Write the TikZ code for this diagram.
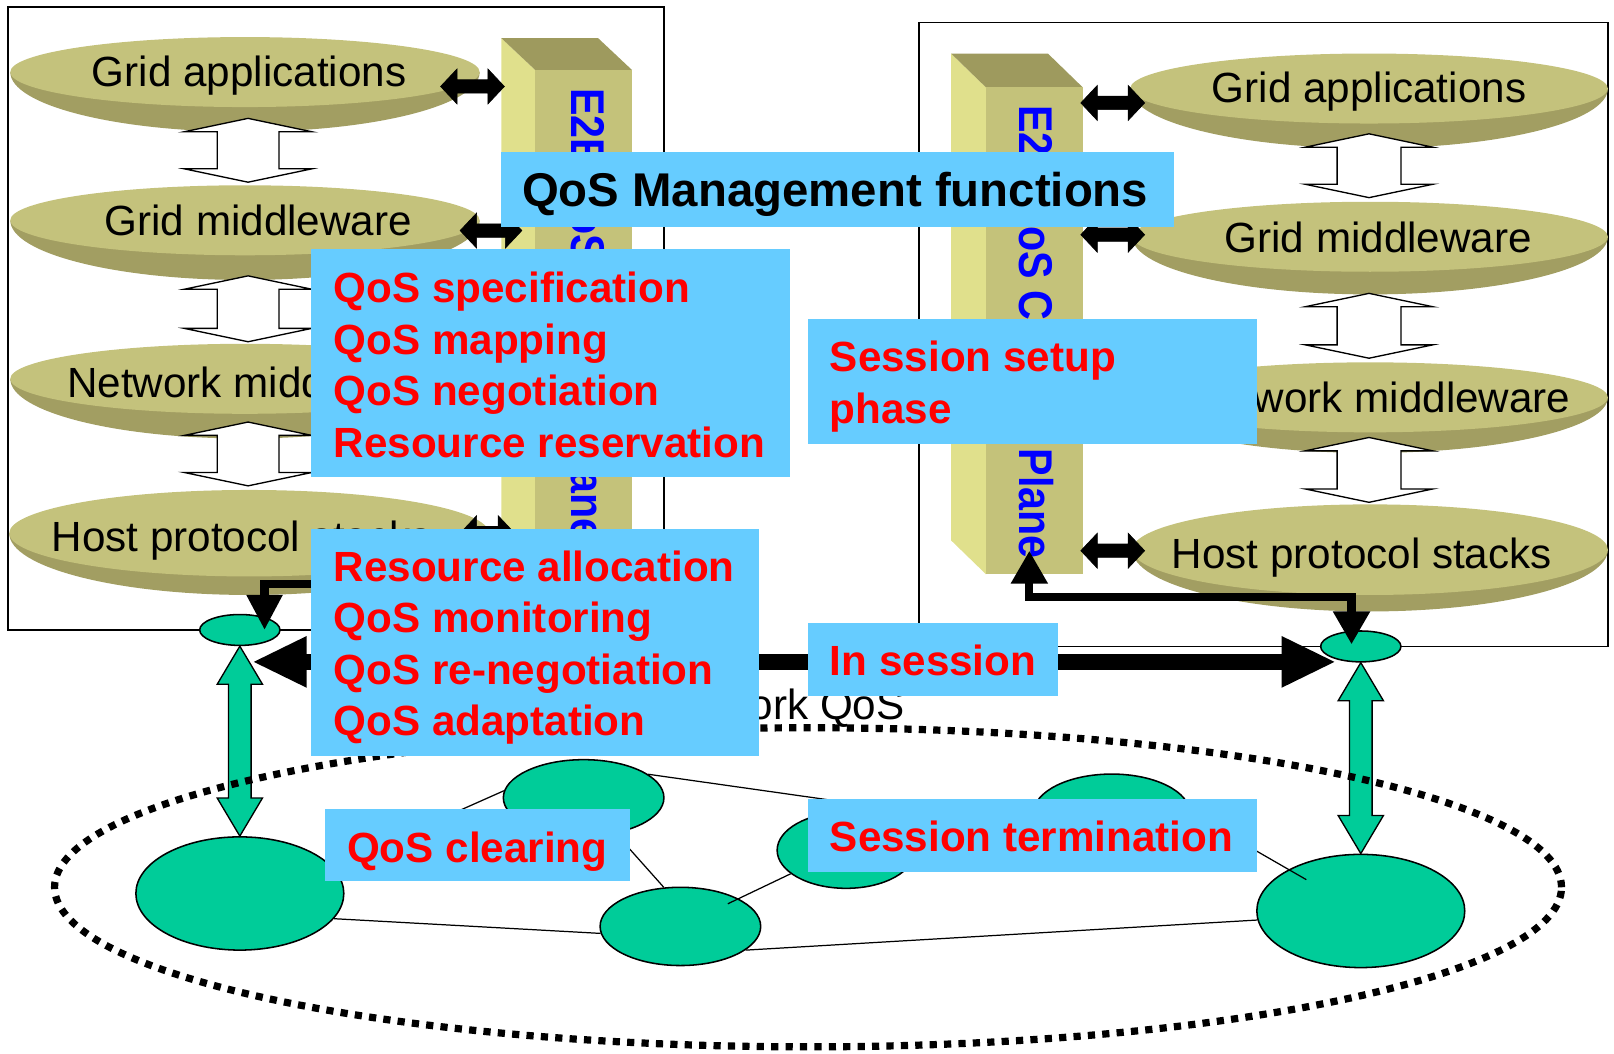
\documentclass[tikz,border=0pt]{standalone}
\usepackage{fontspec}
\setmainfont{Liberation Sans}
\usetikzlibrary{calc,arrows.meta,shapes.geometric}

\definecolor{disktop}{HTML}{C4C27C}
\definecolor{diskside}{HTML}{A29E62}
\definecolor{plantop}{HTML}{9E9A5E}
\definecolor{planfront}{HTML}{C4C27A}
\definecolor{planside}{HTML}{E0E08C}
\definecolor{panel}{HTML}{66CCFF}
\definecolor{netgreen}{HTML}{00CC99}
\definecolor{planeblue}{HTML}{0000FF}

% layer disk: dark side lens under a light top ellipse; #1 name, #2 cx, #3 cy, #4 rx, #5 top ry, #6 side ry
\newcommand\layerdisk[6]{%
  \fill[diskside] (#2-#4,#3) arc[start angle=180,end angle=360,x radius=#4pt,y radius=#6pt] -- cycle;
  \fill[disktop] (#2,#3) ellipse[x radius=#4pt,y radius=#5pt];
  \coordinate (#1) at (#2,#3);}

% vertical block double arrow between two named points; #3 shaft half, #4 head half, #5 head length
\newcommand\vblock[6]{%
  \draw[#6] let \p1=(#1), \p2=(#2) in
    (\x1,\y1) -- (\x1+#4pt,\y1-#5pt) -- (\x1+#3pt,\y1-#5pt) -- (\x1+#3pt,\y2+#5pt)
    -- (\x1+#4pt,\y2+#5pt) -- (\x1,\y2) -- (\x1-#4pt,\y2+#5pt) -- (\x1-#3pt,\y2+#5pt)
    -- (\x1-#3pt,\y1-#5pt) -- (\x1-#4pt,\y1-#5pt) -- cycle;}

% horizontal block double arrow between two named points
\newcommand\hblock[6]{%
  \draw[#6] let \p1=(#1), \p2=(#2) in
    (\x1,\y1) -- (\x1+#5pt,\y1+#4pt) -- (\x1+#5pt,\y1+#3pt) -- (\x2-#5pt,\y1+#3pt)
    -- (\x2-#5pt,\y1+#4pt) -- (\x2,\y1) -- (\x2-#5pt,\y1-#4pt) -- (\x2-#5pt,\y1-#3pt)
    -- (\x1+#5pt,\y1-#3pt) -- (\x1+#5pt,\y1-#4pt) -- cycle;}

% control plane pillar; #1 name, #2 x0, #3 ytop, #4 side width, #5 front width, #6 depth, #7 ybottom
\newcommand\planepillar[7]{%
  \fill[planside] (#2,#3) -- (#2+#4,#3+#6) -- (#2+#4,#7) -- (#2,#7-#6) -- cycle;
  \fill[plantop] (#2,#3) -- (#2+#5,#3) -- (#2+#4+#5,#3+#6) -- (#2+#4,#3+#6) -- cycle;
  \fill[planfront] (#2+#4,#3+#6) rectangle (#2+#4+#5,#7);
  \coordinate (#1) at (#2+#4+#5/2,{(#3+#6+#7)/2});}

\begin{document}
\begin{tikzpicture}[x=1pt,y=-1pt,
  frame/.style={draw=black,line width=1.5pt},
  hollow/.style={fill=white,draw=black,line width=1.3pt,line join=miter},
  solidblock/.style={fill=black,draw=black,line width=0.6pt,line join=miter},
  greenblock/.style={fill=netgreen,draw=black,line width=1.3pt,line join=miter},
  netnode/.style={ellipse,fill=netgreen,draw=black,line width=1.5pt,inner sep=0pt},
  netlink/.style={draw=black,line width=1.2pt},
  panelbox/.style={fill=panel,inner sep=0pt,anchor=north west},
  paneltext/.style={font=\fontsize{41}{50}\selectfont\bfseries,text=red,align=left,anchor=west,inner sep=0pt},
  layertext/.style={font=\fontsize{41}{49}\selectfont,inner sep=0pt,anchor=base},
  planetext/.style={font=\fontsize{46}{55}\selectfont\bfseries,text=planeblue,rotate=-90,xscale=0.87,inner sep=0pt},
  elbow/.style={line width=8pt,line join=miter}
]
\useasboundingbox (0,0) rectangle (1568,1023);

% host frames
\draw[frame] (8,7) rectangle (645,612);
\draw[frame] (893,22) rectangle (1562,628);

% left host stack
\layerdisk{lga}{238}{70}{228}{34}{58}
\layerdisk{lgm}{238}{214}{228}{34}{58}
\layerdisk{lnm}{238}{368}{228}{34}{58}
\layerdisk{lhp}{242}{518}{233}{42}{60}
\node[layertext] (t-lga) at (242,84) {Grid applications};
\node[layertext] (t-lgm) at (251,229) {Grid middleware};
\node[layertext,anchor=base west] (t-lnm) at (65,386) {Network middleware};
\node[layertext,anchor=base west] (t-lhp) at (50,536) {Host protocol stacks};

% right host stack
\layerdisk{rga}{1330}{86}{232}{34}{58}
\layerdisk{rgm}{1331}{230}{231}{34}{56}
\layerdisk{rnm}{1331}{386}{231}{34}{54}
\layerdisk{rhp}{1331}{534}{231}{44}{60}
\node[layertext] (t-rga) at (1330,100) {Grid applications};
\node[layertext] (t-rgm) at (1339,245) {Grid middleware};
\node[layertext] (t-rnm) at (1340,401) {Network middleware};
\node[layertext] (t-rhp) at (1323,552) {Host protocol stacks};

% hollow arrows between layers
\coordinate (la1t) at (241,115); \coordinate (la1b) at (241,177);
\coordinate (la2t) at (241,268); \coordinate (la2b) at (241,332);
\coordinate (la3t) at (241,410); \coordinate (la3b) at (241,472);
\coordinate (ra1t) at (1330,130); \coordinate (ra1b) at (1330,192);
\coordinate (ra2t) at (1330,285); \coordinate (ra2b) at (1330,348);
\coordinate (ra3t) at (1330,425); \coordinate (ra3b) at (1330,488);
\vblock{la1t}{la1b}{30}{62}{13}{hollow}
\vblock{la2t}{la2b}{30}{62}{13}{hollow}
\vblock{la3t}{la3b}{30}{62}{13}{hollow}
\vblock{ra1t}{ra1b}{31}{62}{13}{hollow}
\vblock{ra2t}{ra2b}{31}{62}{13}{hollow}
\vblock{ra3t}{ra3b}{31}{62}{13}{hollow}

% control plane pillars
\planepillar{lplane}{487}{37}{33}{94}{31}{548}
\planepillar{rplane}{924}{52}{34}{94}{33}{558}
\node[planetext] (t-lplane) at ($(lplane)+(0,-2)$) {E2E QoS Control Plane};
\node[planetext] (t-rplane) at ($(rplane)+(-2,1)$) {E2E QoS Control Plane};

% layer <-> control plane links
\coordinate (lk1a) at (428,84);  \coordinate (lk1b) at (490,84);
\coordinate (lk2a) at (447,224); \coordinate (lk2b) at (507,224);
\coordinate (lk3a) at (447,518); \coordinate (lk3b) at (500,518);
\coordinate (rk1a) at (1050,100); \coordinate (rk1b) at (1112,100);
\coordinate (rk2a) at (1050,228); \coordinate (rk2b) at (1112,228);
\coordinate (rk3a) at (1050,535); \coordinate (rk3b) at (1112,535);
\hblock{lk1a}{lk1b}{6.5}{17}{16}{solidblock}
\hblock{lk2a}{lk2b}{6.5}{17}{16}{solidblock}
\hblock{lk3a}{lk3b}{6.5}{17}{16}{solidblock}
\hblock{rk1a}{rk1b}{6.5}{17}{16}{solidblock}
\hblock{rk2a}{rk2b}{6.5}{17}{16}{solidblock}
\hblock{rk3a}{rk3b}{6.5}{17}{16}{solidblock}

% edge routers of the two hosts
\node[netnode,minimum width=78pt,minimum height=30pt] (e1) at (233,612) {};
\node[netnode,minimum width=78pt,minimum height=30pt] (e2) at (1322,628) {};

% host stack -> edge router signalling
\coordinate (lbend) at (330,567);
\draw[elbow,-{Triangle[length=34pt,width=33pt]}] (lbend) -| ($(e1.center)+(24,0)$);
\coordinate (rup) at (1000,535);
\coordinate (rcorner) at (1313,580);
\coordinate (rdown) at (1313,626);
\draw[elbow,{Triangle[length=32pt,width=34pt]}-{Triangle[length=32pt,width=34pt]}] (rup) |- (rcorner) -- (rdown);

% network nodes
\node[netnode,minimum width=202pt,minimum height=110pt] (n1) at (233,868) {};
\node[netnode,minimum width=156pt,minimum height=74pt] (n2) at (567,775) {};
\node[netnode,minimum width=156pt,minimum height=76pt] (n3) at (661,900) {};
\node[netnode,minimum width=134pt,minimum height=74pt] (n4) at (822,826) {};
\node[netnode,minimum width=152pt,minimum height=76pt] (n5) at (1080,790) {};
\node[netnode,minimum width=202pt,minimum height=110pt] (n6) at (1322,885) {};

% network links
\draw[netlink] (n1.-15) -- (n3.185);
\draw[netlink] (n1.16) -- (n2.175);
\draw[netlink] (n2.-48) -- (n3.113);
\draw[netlink] (n2.20) -- (n5.193);
\draw[netlink] ($(n3.center)!0.43!(n4.203)$) -- (n4.203);
\draw[netlink] (n3.-20) -- (n6.185);
\draw[netlink] (n5.east) -- ($(n5.east)!0.68!(n6.center)$);

% edge router <-> network access
\vblock{e1.south}{n1.north}{11}{22}{37}{greenblock}
\vblock{e2.south}{n6.north}{11}{22}{37}{greenblock}

% network QoS domain
\node[draw=black,line width=7pt,dash pattern=on 7pt off 7pt,ellipse,minimum width=1464pt,minimum height=310pt,inner sep=0pt] (netqos) at (785,862) {};
\node[layertext,anchor=base east] (t-netqos) at (879,699) {Network QoS};

% end-to-end session arrow
\coordinate (isl) at (245,643);
\coordinate (isr) at (1298,643);
\draw[line width=15pt,{Triangle[length=53pt,width=46pt]}-{Triangle[length=53pt,width=46pt]}] (isl) -- (isr);

% QoS management phases
\node[panelbox,minimum width=653pt,minimum height=73pt] (mgmt) at (487,147) {};
\node[paneltext,text=black,font=\fontsize{46}{55}\selectfont\bfseries] (t-mgmt) at ($(mgmt.west)+(20,5)$) {QoS Management functions};

\node[panelbox,minimum width=465pt,minimum height=221pt] (setupfn) at (302,242) {};
\node[paneltext] (t-setupfn) at ($(setupfn.west)+(22,2)$) {QoS specification\\QoS mapping\\QoS negotiation\\Resource reservation};

\node[panelbox,minimum width=436pt,minimum height=121pt] (setup) at (785,310) {};
\node[paneltext] (t-setup) at ($(setup.west)+(21,5)$) {Session setup\\phase};

\node[panelbox,minimum width=435pt,minimum height=220pt] (insessfn) at (302,514) {};
\node[paneltext] (t-insessfn) at ($(insessfn.west)+(22,5)$) {Resource allocation\\QoS monitoring\\QoS re-negotiation\\QoS adaptation};

\node[panelbox,minimum width=243pt,minimum height=71pt] (insess) at (785,605) {};
\node[paneltext] (t-insess) at ($(insess.west)+(21,1)$) {In session};

\node[panelbox,minimum width=296pt,minimum height=70pt] (clear) at (316,786) {};
\node[paneltext] (t-clear) at ($(clear.west)+(21,6)$) {QoS clearing};

\node[panelbox,minimum width=436pt,minimum height=71pt] (term) at (785,776) {};
\node[paneltext] (t-term) at ($(term.west)+(21,1)$) {Session termination};
\end{tikzpicture}
\end{document}
